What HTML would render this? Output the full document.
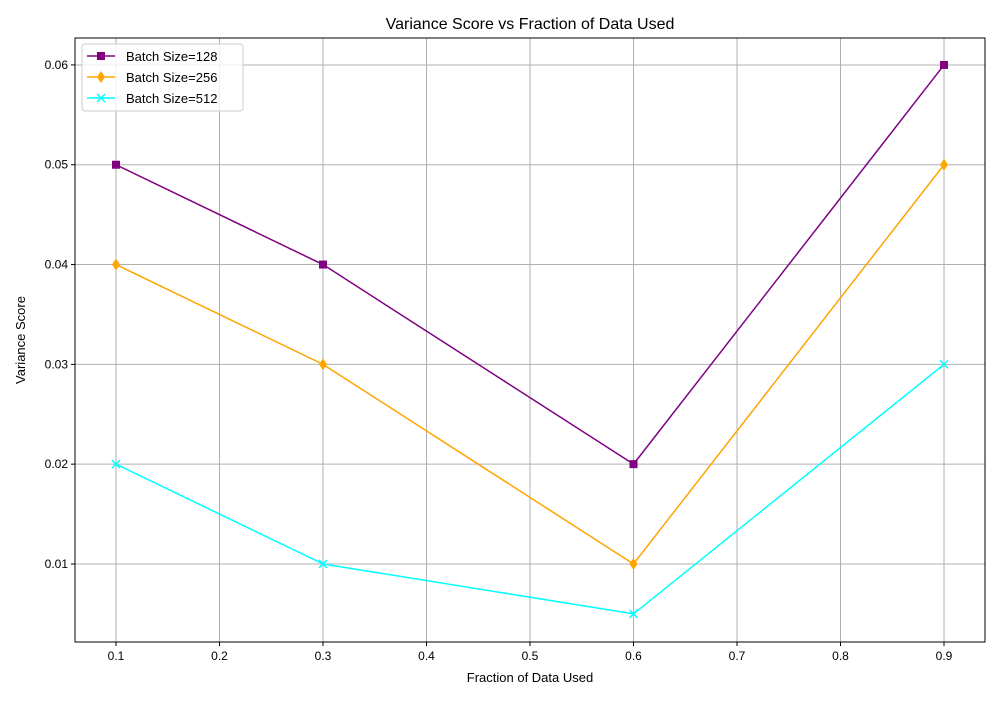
<!DOCTYPE html>
<html><head><meta charset="utf-8"><style>
body{margin:0;background:#fff;font-family:"Liberation Sans","DejaVu Sans",sans-serif;}
svg text{font-family:"Liberation Sans","DejaVu Sans",sans-serif;fill:#000;}
</style></head><body>
<svg id="chart" width="1000" height="700">
<rect width="1000" height="700" fill="#fff"/>
<text x="530" y="29" font-size="16" text-anchor="middle">Variance Score vs Fraction of Data Used</text>
<g id="grid"></g><g id="ticks"></g><g id="series"></g>
<rect x="75" y="38" width="910" height="604" fill="none" stroke="#000" stroke-width="1"/>
<text x="530" y="682" font-size="13" text-anchor="middle">Fraction of Data Used</text>
<text x="25" y="340" font-size="13" text-anchor="middle" transform="rotate(-90 25 340)">Variance Score</text>
<g id="legend">
<rect x="82" y="44" width="161" height="67" fill="#fff" fill-opacity="0.8" stroke="#ccc" rx="3"/>
</g>
</svg>
<script>
const xValues=[0.1,0.3,0.6,0.9];
const s128=[0.05,0.04,0.02,0.06];
const s256=[0.04,0.03,0.01,0.05];
const s512=[0.02,0.01,0.005,0.03];
const xTicks=[0.1,0.2,0.3,0.4,0.5,0.6,0.7,0.8,0.9];
const yTicks=[0.01,0.02,0.03,0.04,0.05,0.06];
const seriesNames=["Batch Size=128","Batch Size=256","Batch Size=512"];
const NS="http://www.w3.org/2000/svg";
const X0=75,X1=985,Y0=38,Y1=642,xmin=0.0604,xmax=0.9396,ymin=0.00218,ymax=0.0627;
const sx=v=>X0+(v-xmin)/(xmax-xmin)*(X1-X0);
const sy=v=>Y1-(v-ymin)/(ymax-ymin)*(Y1-Y0);
function mk(t,a,p){const e=document.createElementNS(NS,t);for(const k in a)e.setAttribute(k,a[k]);p.appendChild(e);return e;}
const grid=document.getElementById('grid'),ticks=document.getElementById('ticks'),ser=document.getElementById('series'),leg=document.getElementById('legend');
xTicks.forEach(v=>{const x=sx(v);
 const g=mk('line',{x1:x,x2:x,y1:Y0,y2:Y1,stroke:'#b0b0b0','stroke-width':1},grid);
 
 
 mk('line',{x1:x,x2:x,y1:Y1,y2:Y1+4,stroke:'#000'},ticks);
 const t=mk('text',{x:x,y:Y1+18,'font-size':12,'text-anchor':'middle'},ticks);t.textContent=v.toFixed(1);
 
 });
yTicks.forEach(v=>{const y=sy(v);
 const g=mk('line',{x1:X0,x2:X1,y1:y,y2:y,stroke:'#b0b0b0','stroke-width':1},grid);
 
 
 mk('line',{x1:X0-4,x2:X0,y1:y,y2:y,stroke:'#000'},ticks);
 const t=mk('text',{x:X0-7,y:y+4,'font-size':12,'text-anchor':'end'},ticks);t.textContent=v.toFixed(2);
 
 });
function marker(type,x,y,c,p){
 if(type==='s')return mk('rect',{x:x-4,y:y-4,width:8,height:8,fill:c},p);
 if(type==='d')return mk('polygon',{points:`${x},${y-6} ${x+4},${y} ${x},${y+6} ${x-4},${y}`,fill:c},p);
 return mk('path',{d:`M${x-4},${y-4}L${x+4},${y+4}M${x-4},${y+4}L${x+4},${y-4}`,stroke:c,'stroke-width':1.5},p);}
const all=[[s128,'purple','s'],[s256,'orange','d'],[s512,'cyan','x']];
all.forEach(([d,c,m],i)=>{
 const g=mk('g',{},ser);
 
 
 mk('polyline',{points:d.map((v,j)=>sx(xValues[j])+','+sy(v)).join(' '),fill:'none',stroke:c,'stroke-width':1.5},g);
 d.forEach((v,j)=>{const e=marker(m,sx(xValues[j]),sy(v),c,g);
  
  });
 const ly=56+i*21;
 const le=mk('g',{},leg);
 
 
 mk('line',{x1:87,x2:115,y1:ly,y2:ly,stroke:c,'stroke-width':1.5},le);
 marker(m,101,ly,c,le);
 const t=mk('text',{x:126,y:ly+5,'font-size':13},le);t.textContent=seriesNames[i];
});
</script>
</body></html>
